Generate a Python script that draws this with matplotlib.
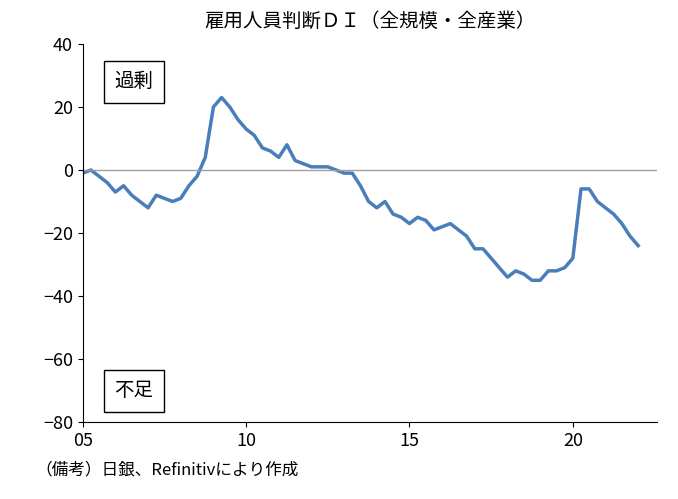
import matplotlib
matplotlib.use("Agg")
import matplotlib.pyplot as plt

plt.rcParams['font.family'] = ['Noto Sans CJK JP', 'DejaVu Sans']

values = [-1,0,-2,-4,-7,-5,-8,-10,-12,-8,-9,-10,-9,-5,-2,4,20,23,20,16,13,11,7,6,4,8,3,2,1,1,1,0,-1,-1,-5,-10,
          -12,-10,-14,-15,-17,-15,-16,-19,-18,-17,-19,-21,-25,-25,-28,-31,-34,-32,-33,-35,-35,-32,-32,-31,-28,-6,-6,-10,
          -12,-14,-17,-21,-24]
xtick_pos = [0, 20, 40, 60]
xtick_labels = ['05', '10', '15', '20']
title = '雇用人員判断ＤＩ（全規模・全産業）'

fig = plt.figure(figsize=(6.78, 4.99), dpi=100)
ax = fig.add_axes([0.122, 0.154, 0.847, 0.758])
ax.plot(range(len(values)), values, color='#4a7ebb', lw=2.5)
ax.axhline(0, color='#a0a0a0', lw=1)
ax.set_xlim(0, 70.3)
ax.set_ylim(-80, 40)
ax.set_yticks(range(-80, 41, 20))
ax.set_xticks(xtick_pos)
ax.set_xticklabels(xtick_labels)
ax.tick_params(labelsize=13, direction='out')
for s in ['top', 'right']:
    ax.spines[s].set_visible(False)
ax.text(0.5, 1.045, title, transform=ax.transAxes, ha='center', fontsize=14)
bbox = dict(boxstyle='square,pad=0.55', fc='white', ec='black', lw=1)
ax.text(0.055, 0.9, '過剰', transform=ax.transAxes, fontsize=14, va='center', bbox=bbox)
ax.text(0.055, 0.083, '不足', transform=ax.transAxes, fontsize=14, va='center', bbox=bbox)
fig.text(0.052, 0.058, '（備考）日銀、Refinitivにより作成', fontsize=12, va='center')
fig.savefig('out.png', dpi=100)
